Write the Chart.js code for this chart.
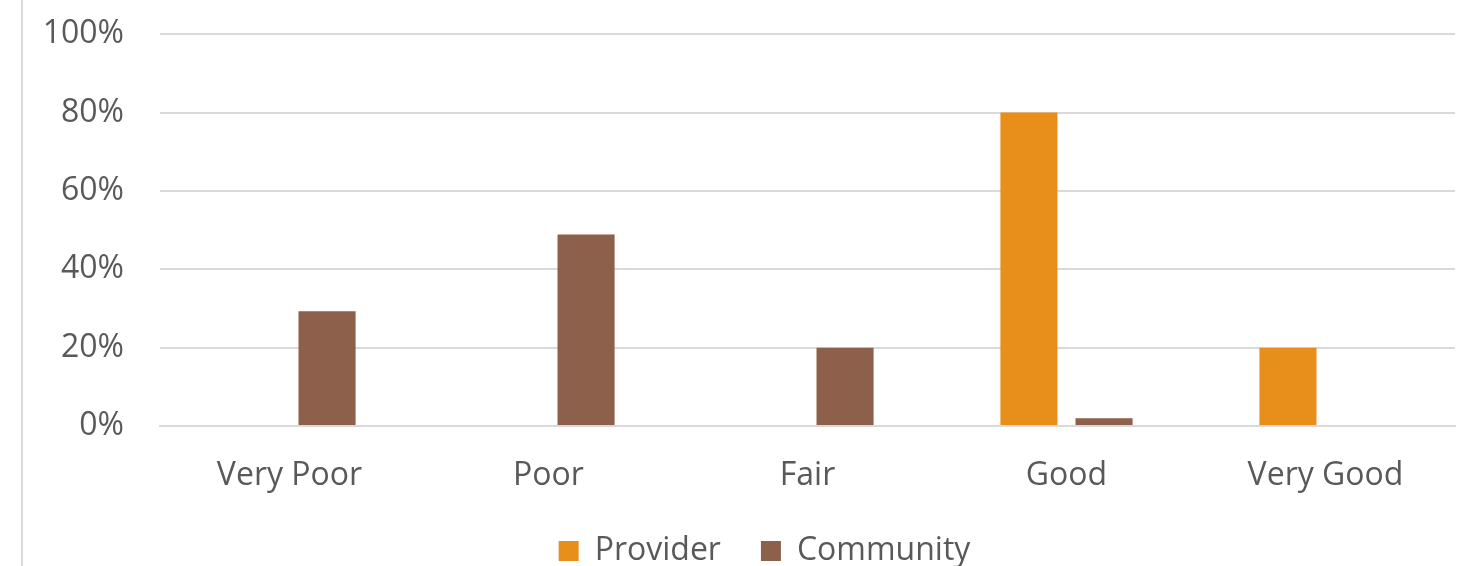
<!DOCTYPE html>
<html>
<head>
<meta charset="utf-8">
<script src="https://cdn.jsdelivr.net/npm/chart.js@4.4.0/dist/chart.umd.min.js"></script>
<style>
  html, body { margin: 0; padding: 0; background: #fff; }
  #wrap { position: relative; width: 1466px; height: 566px; overflow: hidden; }
  #frame { position: absolute; left: 21px; top: 0; width: 2px; height: 566px; background: #d9d9d9; z-index: 1; }
  #ratingChart { position: absolute; left: 0; top: -21px; }
</style>
</head>
<body>
<div id="wrap">
  <div id="frame"></div>
  <canvas id="ratingChart" width="1466" height="598"></canvas>
</div>
<script>
// rating categories and shares (%)
const categories = ['Very Poor', 'Poor', 'Fair', 'Good', 'Very Good'];
const providerValues = [0, 0, 0, 80, 20];
const communityValues = [29.3, 48.9, 20, 2, 0];
const yTicks = [0, 20, 40, 60, 80, 100];

const textGrey = '#595959';
const gridGrey = '#d9d9d9';
const fontFamily = 'Open Sans';

// excel centres the legend a bit right of the canvas middle
const legendShift = {
    id: 'legendShift',
    afterLayout(chart) {
        chart.legend.left += 37;
        chart.legend.right += 37;
    }
};

const ctx = document.getElementById('ratingChart').getContext('2d');
new Chart(ctx, {
    type: 'bar',
    data: {
        labels: categories,
        datasets: [{
            label: 'Provider',
            data: providerValues,
            backgroundColor: '#e88f1b',
            categoryPercentage: 0.58,
            barPercentage: 0.76
        }, {
            label: 'Community',
            data: communityValues,
            backgroundColor: '#8d604b',
            categoryPercentage: 0.58,
            barPercentage: 0.76
        }]
    },
    plugins: [legendShift],
    options: {
        responsive: false,
        animation: false,
        layout: { padding: { left: 0, right: 11, top: 0, bottom: 0 } },
        plugins: {
            tooltip: { enabled: false },
            legend: {
                position: 'bottom',
                labels: {
                    color: textGrey,
                    font: { family: fontFamily, size: 32 },
                    boxWidth: 20,
                    boxHeight: 20,
                    padding: 40
                }
            }
        },
        scales: {
            x: {
                afterFit: (scale) => { scale.height = 69; },
                grid: { display: false, drawTicks: false },
                border: { display: true, color: gridGrey, width: 2 },
                ticks: {
                    color: textGrey,
                    font: { family: fontFamily, size: 32 },
                    padding: 31
                }
            },
            y: {
                min: 0,
                max: 100,
                afterFit: (scale) => { scale.width = 160; },
                afterBuildTicks: (scale) => {
                    scale.ticks = yTicks.map(v => ({ value: v }));
                },
                grid: { color: gridGrey, lineWidth: 2, drawTicks: false },
                border: { display: false },
                ticks: {
                    color: textGrey,
                    font: { family: fontFamily, size: 32 },
                    padding: 36,
                    callback: (v) => v + '%'
                }
            }
        }
    }
});
</script>
</body>
</html>
